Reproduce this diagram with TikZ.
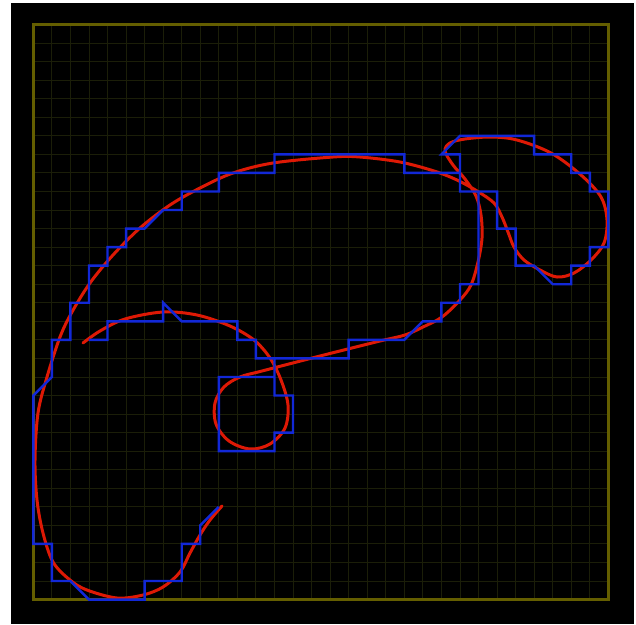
\documentclass[tikz,border=0pt]{standalone}
\definecolor{frameolive}{RGB}{100,94,0}
\definecolor{gridolive}{RGB}{27,30,8}
\definecolor{chainblue}{RGB}{18,40,215}
\definecolor{curvered}{RGB}{222,25,5}
\tikzset{
  gridline/.style={draw=gridolive, line width=0.9pt},
  frameline/.style={draw=frameolive, line width=2.5pt},
  chainline/.style={draw=chainblue, line width=2.4pt, line join=miter},
  curveline/.style={draw=curvered, line width=3pt, line cap=round, line join=round},
  gridframe/.style={shift={(33.3,24.5)}, x=18.55pt, y=-18.55pt},
}
\begin{document}
\begin{tikzpicture}[x=1pt,y=-1pt]
\useasboundingbox (0,0) rectangle (636,624);
\fill[white] (0,0) rectangle (636,624);
\fill[black] (11,3) rectangle (634,624);
\begin{scope}[gridframe]
  \foreach \i in {1,...,30} {
    \draw[gridline] (\i,0) -- (\i,31);
    \draw[gridline] (0,\i) -- (31,\i);
  }
  \draw[frameline] (0,0) rectangle (31,31);
\end{scope}
\draw[curveline] plot[smooth, tension=0.55] coordinates {
 (83,343) (100,331) (125,319) (163,312) (197,315) (230,326) (254,340) (270,358)
 (281,380) (288,405) (285,428) (270,444) (250,449) (229,441) (216,424) (215,403)
 (224,387) (240,377) (262,371) (320,356) (380,341) (405,335) (423,327) (442,317)
 (460,300) (471,285) (478,262) (482,238) (481,215) (476,196) (465,179) (453,165)
 (445,151) (450,143) (465,139) (491,137) (517,140) (551,153) (581,175) (601,197)
 (607,220) (604,243) (591,260) (574,273) (557,277) (540,270) (524,260) (514,247)
 (508,232) (502,217) (494,203) (477,191) (457,180) (434,171) (400,162) (360,157)
 (333,157) (273,163) (233,173) (200,188) (170,205) (140,228) (113,255) (90,283)
 (72,312) (60,337) (47,377) (38,413) (35,460) (37,500)
 (43,533) (53,562) (70,580) (87,590) (117,598) (143,595) (163,587) (180,572)
 (190,553) (200,535) (210,520) (222,506)};
\begin{scope}[gridframe]
\draw[chainline] (3,17) -- (4,17) -- (4,16) -- (7,16) -- (7,15) -- (8,16) -- (11,16)
 -- (11,17) -- (12,17) -- (12,18) -- (13,18) -- (13,20) -- (14,20) -- (14,22)
 -- (13,22) -- (13,23) -- (10,23) -- (10,19) -- (13,19) -- (13,18) -- (17,18)
 -- (17,17) -- (20,17) -- (21,16) -- (22,16) -- (22,15) -- (23,15) -- (23,14)
 -- (24,14) -- (24,9) -- (23,9) -- (23,7) -- (22,7) -- (23,6) -- (27,6) -- (27,7)
 -- (29,7) -- (29,8) -- (30,8) -- (30,9) -- (31,9) -- (31,12) -- (30,12) -- (30,13)
 -- (29,13) -- (29,14) -- (28,14) -- (27,13) -- (26,13) -- (26,11) -- (25,11)
 -- (25,9) -- (23,9) -- (23,8) -- (20,8) -- (20,7) -- (13,7) -- (13,8) -- (10,8)
 -- (10,9) -- (8,9) -- (8,10) -- (7,10) -- (6,11) -- (5,11) -- (5,12) -- (4,12)
 -- (4,13) -- (3,13) -- (3,15) -- (2,15) -- (2,17) -- (1,17) -- (1,19) -- (0,20)
 -- (0,28) -- (1,28) -- (1,30) -- (2,30) -- (3,31) -- (6,31) -- (6,30) -- (8,30)
 -- (8,28) -- (9,28) -- (9,27) -- (10,26);
\end{scope}
\end{tikzpicture}
\end{document}
